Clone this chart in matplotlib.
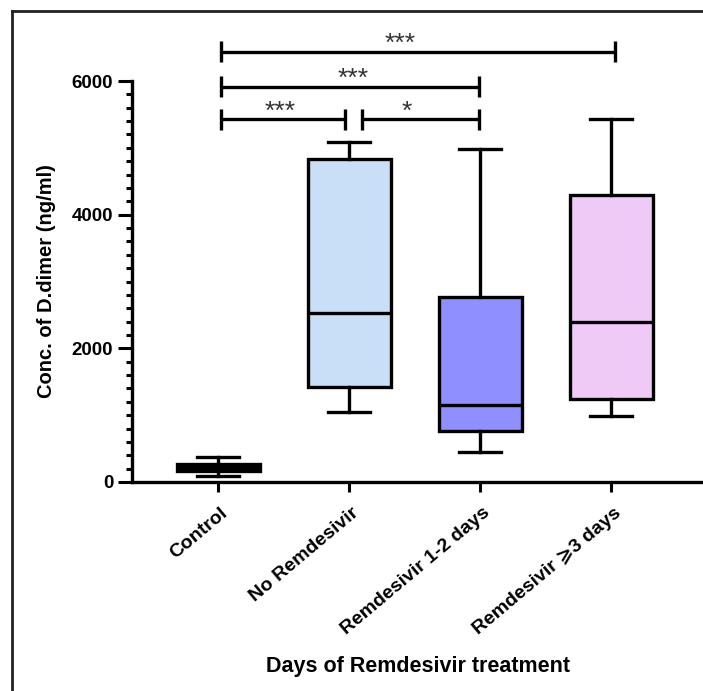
import matplotlib.pyplot as plt
from matplotlib.lines import Line2D
from matplotlib.ticker import MultipleLocator
from matplotlib.transforms import ScaledTranslation

plt.rcParams['font.family'] = ['Liberation Sans', 'DejaVu Sans']
plt.rcParams['font.weight'] = 'bold'
plt.rcParams['axes.labelweight'] = 'bold'

# werte
groups = ['Control', 'No Remdesivir', 'Remdesivir 1-2 days', 'Remdesivir \u2a7e3 days']
whislo = [90, 1050, 450, 995]
q1 = [165, 1420, 765, 1240]
med = [220, 2530, 1145, 2400]
q3 = [270, 4840, 2775, 4295]
whishi = [378, 5090, 4980, 5430]
farben = ['black', '#c9def7', '#8f8fff', '#efcaf7']

# signifikanz-klammern: start, ende, hoehe, sterne, x der sterne
br_start = [0.02, 0.02, 0.02, 1.10]
br_end = [3.03, 1.99, 0.97, 1.99]
br_y = [6435, 5915, 5430, 5430]
br_txt = ['***', '***', '***', '*']
br_txt_x = [1.39, 1.03, 0.47, 1.44]

fig = plt.figure(figsize=(7.03, 6.91), dpi=100)
ax = fig.add_axes([132/703, 1 - 482/691, 1 - 132/703, 401/691])

stats = []
for i in range(len(groups)):
    stats.append(dict(label=groups[i], whislo=whislo[i], q1=q1[i], med=med[i],
                      q3=q3[i], whishi=whishi[i], fliers=[]))

lw = 2.4
bp = ax.bxp(stats, positions=range(len(groups)), widths=0.63, capwidths=0.32,
            patch_artist=True, showfliers=False,
            boxprops=dict(linewidth=lw, edgecolor='black'),
            whiskerprops=dict(linewidth=lw, color='black'),
            capprops=dict(linewidth=lw, color='black'),
            medianprops=dict(linewidth=lw, color='black'))
for box, c in zip(bp['boxes'], farben):
    box.set_facecolor(c)

# klammern oben
h = 157
for s, e, y, t, tx in zip(br_start, br_end, br_y, br_txt, br_txt_x):
    ax.plot([s, e], [y, y], 'k-', lw=lw, clip_on=False, solid_capstyle='butt')
    ax.plot([s, s], [y - h, y + h], 'k-', lw=lw, clip_on=False, solid_capstyle='butt')
    ax.plot([e, e], [y - h, y + h], 'k-', lw=lw, clip_on=False, solid_capstyle='butt')
    ax.text(tx, y + 10, t, ha='center', va='baseline', fontsize=19,
            fontweight='normal', color='#333333')

ax.set_xlim(-0.66, 3.70)
ax.set_ylim(0, 6000)
ax.set_yticks([0, 2000, 4000, 6000])
ax.yaxis.set_minor_locator(MultipleLocator(200))
ax.spines['top'].set_visible(False)
ax.spines['right'].set_visible(False)
for sp in ['left', 'bottom']:
    ax.spines[sp].set_linewidth(lw)

ax.tick_params(axis='y', which='major', length=10, width=2.2, pad=3.5, labelsize=13.5)
ax.tick_params(axis='y', which='minor', length=4.5, width=2.2)
ax.tick_params(axis='x', length=7, width=2.2, pad=9, labelsize=14)
ax.set_xticks(range(len(groups)))
ax.set_xticklabels(groups, rotation=40, ha='right', va='top', rotation_mode='anchor')
for lab in ax.get_xticklabels():
    lab.set_transform(lab.get_transform() + ScaledTranslation(2/100, 0, fig.dpi_scale_trans))

ax.set_ylabel('Conc. of D.dimer (ng/ml)', fontsize=14.5, va='center')
ax.yaxis.set_label_coords(-0.149, 0.5)
ax.set_xlabel('Days of Remdesivir treatment', fontsize=15.5, va='center')
ax.xaxis.set_label_coords(0.5, -0.459)

# rahmen links und oben
fig.add_artist(Line2D([12/703, 12/703], [-0.1, 1 - 11/691], color='#222222', lw=2))
fig.add_artist(Line2D([12/703, 1.1], [1 - 11/691, 1 - 11/691], color='#222222', lw=2))

plt.savefig('out.png', dpi=100)
